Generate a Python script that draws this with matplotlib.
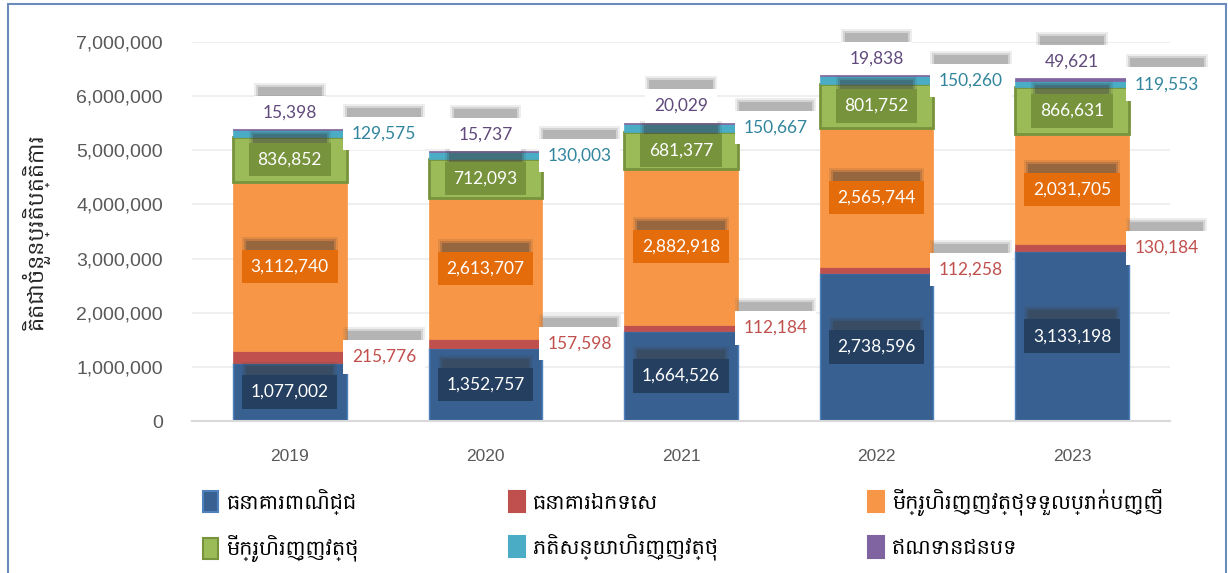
import matplotlib
matplotlib.use("Agg")
import matplotlib.pyplot as plt
from matplotlib import font_manager
from matplotlib.patches import Patch, Rectangle
from matplotlib.transforms import IdentityTransform
from matplotlib.ticker import FuncFormatter

years = ["2019", "2020", "2021", "2022", "2023"]
commercial = [1077002, 1352757, 1664526, 2738596, 3133198]
specialized = [215776, 157598, 112184, 112258, 130184]
mfi_deposit = [3112740, 2613707, 2882918, 2565744, 2031705]
mfi = [836852, 712093, 681377, 801752, 866631]
leasing = [129575, 130003, 150667, 150260, 119553]
rural = [15398, 15737, 20029, 19838, 49621]

names = ["ធនាគារពាណិជ្ជ", "ធនាគារឯកទេស", "មីក្រូហិរញ្ញវត្ថុទទួលប្រាក់បញ្ញើ",
         "មីក្រូហិរញ្ញវត្ថុ", "ភតិសន្យាហិរញ្ញវត្ថុ", "ឥណទានជនបទ"]
ylabel = "គិតជាចំនួនប្រតិបត្តិការ"

# try to find any font with Khmer glyphs, fall back to DejaVu
khmer = [f.name for f in font_manager.fontManager.ttflist
         if "khmer" in f.name.lower() or "hanuman" in f.name.lower()]
kh_family = [khmer[0], "DejaVu Sans"] if khmer else ["DejaVu Sans"]

series = [commercial, specialized, mfi_deposit, mfi, leasing, rural]
fill = ["#386192", "#c0504d", "#f79646", "#9bbb59", "#4bacc6", "#8064a2"]
edge = ["#4f81bd", "#c0504d", "#f79646", "#77933c", "#4bacc6", "#8064a2"]
lw = [1.0, 0.5, 0.5, 2.0, 0.5, 0.5]

fig = plt.figure(figsize=(12.28, 5.73), dpi=100)
ax = fig.add_axes([192 / 1228, 1 - 421 / 573, 978 / 1228, 379 / 573])

fig.patches.append(Rectangle((8 / 1228, -0.05), 1218 / 1228, 1.05 - 4 / 573,
                             transform=fig.transFigure, fill=False,
                             edgecolor="#6b8cba", linewidth=1.5))

x = list(range(len(years)))
width = 0.58
bottom = [0] * len(years)
bottoms = []
for vals, fc, ec, w in zip(series, fill, edge, lw):
    ax.bar(x, vals, width, bottom=bottom, color=fc, edgecolor=ec, linewidth=w, zorder=2)
    bottoms.append(list(bottom))
    bottom = [b + v for b, v in zip(bottom, vals)]

lab_font = dict(family="Lato", fontsize=12.5)
labels = []  # (text artist, shadow colour)


def label(xv, yv, text, color, fc, dx=0, dy=0, ha="center", shadow="#3a3a3a"):
    t = ax.annotate(text, (xv, yv), xytext=(dx, dy), textcoords="offset points",
                    ha=ha, va="center", color=color, zorder=4, **lab_font,
                    bbox=dict(boxstyle="square,pad=0.5", fc=fc, ec="none"))
    labels.append((t, shadow))


inside = {0: "#243f60", 2: "#e46c0a", 3: "#77933c"}
right_side = {1: "#c0504d", 4: "#31859c"}
for i in range(len(years)):
    for s, vals in enumerate(series):
        v = vals[i]
        mid = bottoms[s][i] + v / 2
        txt = f"{v:,}"
        if s in inside:
            label(i, mid, txt, "white", inside[s])
        elif s in right_side:
            label(i + width / 2, mid, txt, right_side[s], "white", dx=4, ha="left",
                  shadow="#6e6e6e")
        else:
            label(i, bottom[i], txt, "#604a7b", "white", dy=12, shadow="#6e6e6e")

ax.set_xlim(-0.5, len(years) - 0.5)
ax.set_ylim(0, 7000000)
ax.set_yticks(range(0, 7000001, 1000000))
ax.yaxis.set_major_formatter(FuncFormatter(lambda v, p: f"{int(v):,}"))
ax.set_xticks(x)
ax.set_xticklabels(years)
ax.tick_params(axis="y", length=0, pad=21, labelsize=14, labelcolor="#595959")
ax.tick_params(axis="x", length=0, pad=20, labelsize=12.5, labelcolor="#595959")
for lbl in ax.get_yticklabels() + ax.get_xticklabels():
    lbl.set_family("Liberation Sans")
ax.grid(axis="y", color="#ececec", linewidth=1.2, zorder=0)
ax.set_axisbelow(True)
for sp in ["top", "right", "left"]:
    ax.spines[sp].set_visible(False)
ax.spines["bottom"].set_color("#d9d9d9")
ax.spines["bottom"].set_linewidth(1.5)

fig.text(35 / 1228, 1 - 232 / 573, ylabel, rotation=90, ha="center", va="center",
         fontsize=16, family=kh_family, color="#262626")

handles = [Patch(facecolor=f, edgecolor=e, linewidth=1.5) for f, e in zip(fill, edge)]
order = [0, 3, 1, 4, 2, 5]
fig.legend([handles[k] for k in order], [names[k] for k in order], ncol=3,
           loc="upper left", bbox_to_anchor=(188 / 1228, 0, 990 / 1228, 1 - 474 / 573),
           mode="expand", frameon=False, handlelength=0.75, handleheight=1.2,
           handletextpad=0.4, labelspacing=1.0, borderpad=0.2,
           prop=dict(family=kh_family, size=15))

# blurred shadows behind the label boxes, offset upward (pixel coords)
fig.canvas.draw()
for t, sc in labels:
    bb = t.get_bbox_patch().get_window_extent()
    for inset, up, a in [(0, 13, 0.12), (2, 11, 0.2), (4, 9, 0.3)]:
        ax.add_patch(Rectangle((bb.x0 + inset, bb.y0 + up), bb.width - 2 * inset,
                               bb.height, transform=IdentityTransform(),
                               facecolor=sc, edgecolor="none", alpha=a, zorder=3,
                               clip_on=False))

fig.savefig("out.png", dpi=100)
